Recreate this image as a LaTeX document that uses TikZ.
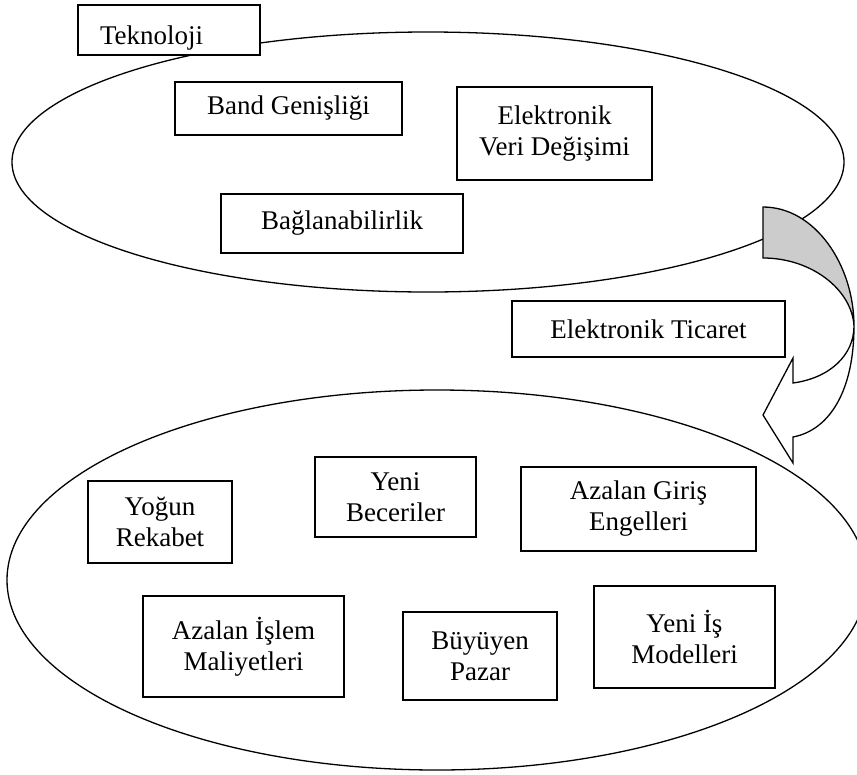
\documentclass[tikz,border=0pt]{standalone}
\usepackage{fontspec}
\setmainfont{Liberation Serif}
\begin{document}
\begin{tikzpicture}[x=1pt, y=-1pt, line width=1.3pt,
    box/.style={draw, fill=white, align=center, inner sep=0pt, font=\fontsize{27}{31}\selectfont}]
    \useasboundingbox (0,0) rectangle (857,774);
    \clip (0,0) rectangle (857,774);

    % the two fields
    \draw (428,162) ellipse [x radius=416, y radius=130];
    \draw (437,580) ellipse [x radius=430, y radius=190];

    % technology
    \node[box, text width=138pt, align=left, inner xsep=22pt, text height=28pt, text depth=0pt, minimum height=50pt] (tek) at (169,30) {Teknoloji};
    \node[box, minimum width=227pt, minimum height=53pt] (band) at (288.5,108.5) {Band Genişliği};
    \node[box, minimum width=195pt, minimum height=93pt] (edi) at (554.5,133.5) {Elektronik\\Veri Değişimi};
    \node[box, minimum width=242pt, minimum height=59pt] (bag) at (342,223.5) {Bağlanabilirlik};

    % curved arrow
    \draw[fill=black!20] (763,207) .. controls (815,207) and (854,265) .. (854,326)
        .. controls (852,290) and (812,258) .. (763,258) -- cycle;
    \draw[fill=white] (854,326) .. controls (854,390) and (830,430) .. (793,437)
        -- (793,463) -- (763,415) -- (793,358) -- (793,383)
        .. controls (830,378) and (854,355) .. (854,326) -- cycle;
    \node[box, minimum width=273pt, minimum height=56pt] (etic) at (648.5,329) {Elektronik Ticaret};

    % effects
    \node[box, minimum width=144pt, minimum height=82pt] (yogun) at (160,522) {Yoğun\\Rekabet};
    \node[box, minimum width=161pt, minimum height=80pt] (yenib) at (395.5,497) {Yeni\\Beceriler};
    \node[box, minimum width=235pt, minimum height=84pt] (giris) at (638.5,509) {Azalan Giriş\\Engelleri};
    \node[box, minimum width=201pt, minimum height=101pt] (islem) at (243.5,646.5) {Azalan İşlem\\Maliyetleri};
    \node[box, minimum width=154pt, minimum height=88pt] (pazar) at (480,656) {Büyüyen\\Pazar};
    \node[box, minimum width=181pt, minimum height=102pt] (yenis) at (684.5,637) {Yeni İş\\Modelleri};
\end{tikzpicture}
\end{document}
